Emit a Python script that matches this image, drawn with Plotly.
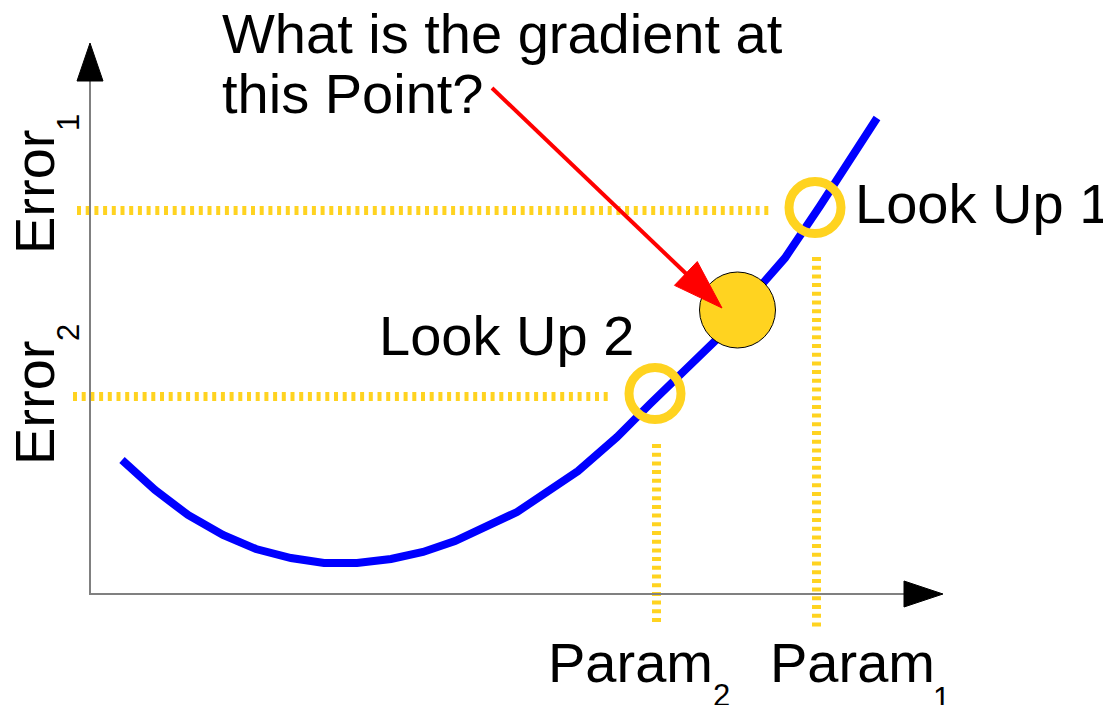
import numpy as np
import plotly.graph_objects as go

# ---------------- data (pixel-space diagram coordinates) ----------------
curve_x = [122, 155, 188, 223, 256, 291, 324, 357, 391, 423, 455, 517, 578,
           617, 650, 684, 717, 750, 785, 820, 850, 877]
curve_y = [460, 490, 515, 535, 549, 558, 563, 563, 559, 552, 541, 512, 471,
           437, 404, 372, 339, 298, 258, 206, 160, 118]

lookup_x = [815, 655]          # Look Up 1, Look Up 2 ring centres
lookup_y = [207.5, 393.5]
point_x = [737.5]              # the point in question
point_y = [310]

# dotted guide lines: (x0, y0, x1, y1)
guide_h1 = [77, 210.5, 769, 210.5]
guide_h2 = [73, 396.5, 609, 396.5]
guide_v2 = [656.5, 444, 656.5, 623]
guide_v1 = [816.5, 257, 816.5, 631]

# axes
axis_origin = [90, 594]
x_axis_end = [904, 594]
y_axis_end = [90, 81]
x_arrow_tip = [943, 594]
y_arrow_tip = [90, 43]

# red pointer arrow
arrow_start = [492, 88]
arrow_tip = [722, 308]

YELLOW = "#FFD320"
FONT = "Liberation Sans, Arial, Helvetica, sans-serif"


def arrowhead(tip, base_dir_from, length, half_width):
    tip = np.array(tip, float)
    src = np.array(base_dir_from, float)
    d = tip - src
    d = d / np.linalg.norm(d)
    n = np.array([-d[1], d[0]])
    base = tip - length * d
    p1 = base + half_width * n
    p2 = base - half_width * n
    xs = [tip[0], p1[0], p2[0], tip[0]]
    ys = [tip[1], p1[1], p2[1], tip[1]]
    return xs, ys, base, d


fig = go.Figure()

# dotted guides
for g in (guide_h1, guide_h2, guide_v2, guide_v1):
    fig.add_trace(go.Scatter(x=[g[0], g[2]], y=[g[1], g[3]], mode="lines",
                             line=dict(color=YELLOW, width=9, dash="4px,4.7px"),
                             hoverinfo="skip"))

# axes lines
fig.add_trace(go.Scatter(x=[y_axis_end[0], axis_origin[0], x_axis_end[0]],
                         y=[y_axis_end[1], axis_origin[1], x_axis_end[1]],
                         mode="lines", line=dict(color="#808080", width=2),
                         hoverinfo="skip"))
# axis arrowheads
for tip, frm, L, hw in ((x_arrow_tip, axis_origin, 39, 13),
                        (y_arrow_tip, axis_origin, 38, 13)):
    xs, ys, _, _ = arrowhead(tip, frm, L, hw)
    fig.add_trace(go.Scatter(x=xs, y=ys, mode="lines", fill="toself",
                             fillcolor="black", line=dict(color="black", width=1),
                             hoverinfo="skip"))

# blue error curve
fig.add_trace(go.Scatter(x=curve_x, y=curve_y, mode="lines",
                         line=dict(color="#0000FF", width=8), hoverinfo="skip"))

# look-up rings
fig.add_trace(go.Scatter(x=lookup_x, y=lookup_y, mode="markers",
                         marker=dict(size=52, color="rgba(0,0,0,0)",
                                     line=dict(color=YELLOW, width=9)),
                         hoverinfo="skip"))

# the point
fig.add_trace(go.Scatter(x=point_x, y=point_y, mode="markers",
                         marker=dict(size=76, color=YELLOW,
                                     line=dict(color="black", width=1)),
                         hoverinfo="skip"))

# red arrow
hx, hy, base, d = arrowhead(arrow_tip, arrow_start, 50, 16.5)
line_end = base + 3 * d
fig.add_trace(go.Scatter(x=[arrow_start[0], line_end[0]],
                         y=[arrow_start[1], line_end[1]], mode="lines",
                         line=dict(color="#FF0000", width=4), hoverinfo="skip"))
fig.add_trace(go.Scatter(x=hx, y=hy, mode="lines", fill="toself",
                         fillcolor="#FF0000", line=dict(color="#FF0000", width=1),
                         hoverinfo="skip"))

# ---------------- text ----------------
def txt(text, x, y, size=56, xanchor="left", angle=0):
    fig.add_annotation(x=x, y=y, xref="x", yref="y", text=text, showarrow=False,
                       xanchor=xanchor, yanchor="middle", textangle=angle,
                       font=dict(family=FONT, size=size, color="black"))

SUB = 31
txt("What is the gradient at", 220, 33)
txt("this Point?", 220, 93)
txt("Look Up 1", 853, 203)
txt("Look Up 2", 377, 335.5)
txt("Param", 546, 662.5)
txt("2", 721, 695, size=SUB, xanchor="center")
txt("Param", 768, 662.5)
txt("1", 941, 698, size=SUB, xanchor="center")
txt("Error", 34, 192, xanchor="center", angle=-90)
txt("1", 68, 123, size=SUB, xanchor="center", angle=-90)
txt("Error", 34, 403, xanchor="center", angle=-90)
txt("2", 68, 333, size=SUB, xanchor="center", angle=-90)

fig.update_layout(
    width=1103, height=705, margin=dict(l=0, r=0, t=0, b=0),
    paper_bgcolor="white", plot_bgcolor="white", showlegend=False,
    xaxis=dict(range=[0, 1103], visible=False, fixedrange=True),
    yaxis=dict(range=[705, 0], visible=False, fixedrange=True),
)

fig.write_html("out.html", config={"displayModeBar": False},
               post_script="document.body.style.margin='0';"
                           "document.body.style.overflow='hidden';")
